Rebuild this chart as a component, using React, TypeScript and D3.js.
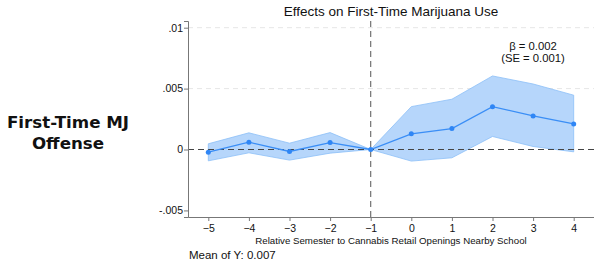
import React, { useRef, useEffect } from 'react';
import * as d3 from 'd3';

const periods = [-5, -4, -3, -2, -1, 0, 1, 2, 3, 4];
const estimates = [-0.00022, 0.0006, -0.00016, 0.00057, 0, 0.00129, 0.00172, 0.00352, 0.00276, 0.0021];
const ciUpper = [0.00047, 0.00137, 0.00052, 0.00139, 0, 0.00352, 0.00413, 0.00604, 0.00538, 0.00446];
const ciLower = [-0.00093, -0.00027, -0.00087, -0.0003, 0, -0.00095, -0.00068, 0.00107, 0.00025, -0.00019];
const yTicks = [-0.005, 0, 0.005, 0.01];
const yTickLabels = ['-.005', '0', '.005', '.01'];

const App: React.FC = () => {
  const ref = useRef<SVGSVGElement | null>(null);

  useEffect(() => {
    if (!ref.current) return;
    const svg = d3.select(ref.current);
    svg.selectAll('*').remove();

    const width = 594;
    const height = 261;
    const margin = { top: 21, right: 0, bottom: 44, left: 188 };
    const font = 'Liberation Sans, Arial, sans-serif';

    const x = d3.scaleLinear()
      .domain([-5.5, 4.5])
      .range([margin.left, width - margin.right]);
    const y = d3.scaleLinear()
      .domain([-0.00554, 0.01055])
      .range([height - margin.bottom, margin.top]);

    const rows = periods.map((p, i) => ({ p, est: estimates[i], hi: ciUpper[i], lo: ciLower[i] }));

    // light grid
    svg.append('g')
      .selectAll('line')
      .data([0.005, 0.01])
      .enter()
      .append('line')
      .attr('x1', margin.left)
      .attr('x2', width - margin.right)
      .attr('y1', d => y(d))
      .attr('y2', d => y(d))
      .attr('stroke', '#e6e6e6')
      .attr('stroke-dasharray', '5,4')
      .attr('stroke-width', 1);

    // CI band
    const area = d3.area<typeof rows[number]>()
      .x(d => x(d.p))
      .y0(d => y(d.lo))
      .y1(d => y(d.hi));
    svg.append('path')
      .datum(rows)
      .attr('fill', '#b6d6fb')
      .attr('stroke', '#8cbff7')
      .attr('stroke-width', 0.8)
      .attr('d', area as any);

    // zero line
    svg.append('line')
      .attr('x1', margin.left)
      .attr('x2', width - margin.right)
      .attr('y1', y(0))
      .attr('y2', y(0))
      .attr('stroke', '#444')
      .attr('stroke-dasharray', '6,4')
      .attr('stroke-width', 1.1);

    // vertical reference line at -1
    svg.append('line')
      .attr('x1', x(-1))
      .attr('x2', x(-1))
      .attr('y1', margin.top)
      .attr('y2', height - margin.bottom)
      .attr('stroke', '#666')
      .attr('stroke-dasharray', '6,4')
      .attr('stroke-width', 1.1);

    // estimate line
    const line = d3.line<typeof rows[number]>()
      .x(d => x(d.p))
      .y(d => y(d.est));
    svg.append('path')
      .datum(rows)
      .attr('fill', 'none')
      .attr('stroke', '#3a8ef6')
      .attr('stroke-width', 1.3)
      .attr('d', line as any);

    svg.selectAll('.pt')
      .data(rows)
      .enter()
      .append('circle')
      .attr('class', 'pt')
      .attr('cx', d => x(d.p))
      .attr('cy', d => y(d.est))
      .attr('r', 2.5)
      .attr('fill', '#2f86f5');

    // axes
    const yAxis = d3.axisLeft(y)
      .tickValues(yTicks)
      .tickSize(4)
      .tickFormat((d, i) => yTickLabels[i]);
    const gy = svg.append('g')
      .attr('transform', `translate(${margin.left},0)`)
      .call(yAxis);
    gy.select('.domain').attr('stroke', '#777');
    gy.selectAll('.tick line').attr('stroke', '#777');
    gy.selectAll('.tick text').attr('font-family', font).attr('font-size', 10.5).attr('fill', '#111').attr('x', -5);

    const xAxis = d3.axisBottom(x)
      .tickValues(periods)
      .tickSize(4)
      .tickSizeOuter(0)
      .tickFormat(d3.format('d'));
    const gx = svg.append('g')
      .attr('transform', `translate(0,${height - margin.bottom})`)
      .call(xAxis);
    gx.select('.domain').attr('stroke', '#777');
    gx.selectAll('.tick line').attr('stroke', '#777');
    gx.selectAll('.tick text').attr('font-family', font).attr('font-size', 10.5).attr('fill', '#111').attr('y', 8);

    const cx = (margin.left + width - margin.right) / 2;

    svg.append('text')
      .attr('x', cx)
      .attr('y', 16)
      .attr('text-anchor', 'middle')
      .attr('font-family', font)
      .attr('font-size', 13.5)
      .attr('fill', '#111')
      .text('Effects on First-Time Marijuana Use');

    svg.append('text')
      .attr('x', cx)
      .attr('y', 244)
      .attr('text-anchor', 'middle')
      .attr('font-family', font)
      .attr('font-size', 9.7)
      .attr('fill', '#111')
      .text('Relative Semester to Cannabis Retail Openings Nearby School');

    svg.append('text')
      .attr('x', 189)
      .attr('y', 259)
      .attr('font-family', font)
      .attr('font-size', 11.5)
      .attr('fill', '#111')
      .text('Mean of Y: 0.007');

    svg.append('text')
      .attr('x', 533)
      .attr('y', 50)
      .attr('text-anchor', 'middle')
      .attr('font-family', font)
      .attr('font-size', 11.3)
      .attr('fill', '#111')
      .text('β = 0.002');
    svg.append('text')
      .attr('x', 533)
      .attr('y', 62)
      .attr('text-anchor', 'middle')
      .attr('font-family', font)
      .attr('font-size', 11.3)
      .attr('fill', '#111')
      .text('(SE = 0.001)');

    const lbl = svg.append('text')
      .attr('text-anchor', 'middle')
      .attr('font-family', 'DejaVu Sans, sans-serif')
      .attr('font-weight', 'bold')
      .attr('font-size', 16.7)
      .attr('fill', '#111');
    lbl.append('tspan').attr('x', 68).attr('y', 128).text('First-Time MJ');
    lbl.append('tspan').attr('x', 68).attr('y', 149).text('Offense');
  }, []);

  return (
    <div style={{ position: 'absolute', left: 0, top: 0 }}>
      <svg width={594} height={261} ref={ref} style={{ display: 'block' }} />
    </div>
  );
};

export default App;
